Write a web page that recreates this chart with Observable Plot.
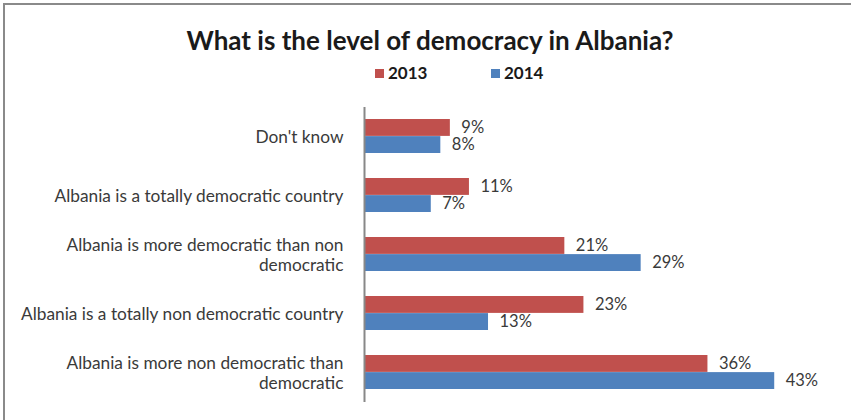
<!DOCTYPE html>
<html>
<head>
<meta charset="utf-8">
<script src="https://cdn.jsdelivr.net/npm/d3@7"></script>
<script src="https://cdn.jsdelivr.net/npm/@observablehq/plot@0.6"></script>
<style>
  html, body { margin: 0; padding: 0; background: #fff; overflow: hidden; }
  body { width: 851px; height: 420px; position: relative; font-family: Lato, "Open Sans", sans-serif; }
  #frame { position: absolute; left: 3px; top: 3px; width: 900px; height: 440px; border: 2px solid #8a8a8a; box-sizing: border-box; }
  #title { position: absolute; left: 9px; top: 24px; width: 842px; text-align: center; font-weight: bold; font-size: 26px; color: #1a1a1a; line-height: 32px; }
  #legend { position: absolute; left: 0; top: 62px; width: 851px; height: 22px; }
  .item { position: absolute; top: 0; font-weight: bold; font-size: 17px; color: #1a1a1a; line-height: 22px; }
  .sw { display: inline-block; width: 9px; height: 9px; margin-right: 4px; vertical-align: 1px; }
  #chart { position: absolute; left: 0; top: 90px; }
</style>
</head>
<body>
<div id="frame"></div>
<div id="title">What is the level of democracy in Albania?</div>
<div id="legend"></div>
<div id="chart"></div>
<script>
const categories = [
  "Don't know",
  "Albania is a totally democratic country",
  "Albania is more democratic than non democratic",
  "Albania is a totally non democratic country",
  "Albania is more non democratic than democratic"
];
const tickLabels = [
  "Don't know",
  "Albania is a totally democratic country",
  "Albania is more democratic than non\ndemocratic",
  "Albania is a totally non democratic country",
  "Albania is more non democratic than\ndemocratic"
];
const years = ["2013", "2014"];
const values2013 = [9, 11, 21, 23, 36];
const values2014 = [8, 7, 29, 13, 43];
const colors = ["#C0504D", "#4F81BD"];

const rows = categories.flatMap((c, i) => [
  {cat: c, year: years[0], value: values2013[i] / 100},
  {cat: c, year: years[1], value: values2014[i] / 100}
]);
const r13 = rows.filter(d => d.year === years[0]);
const r14 = rows.filter(d => d.year === years[1]);

// legend
const legend = document.getElementById("legend");
const legendX = [375, 491];
years.forEach((y, i) => {
  const el = document.createElement("div");
  el.className = "item";
  el.style.left = legendX[i] + "px";
  el.innerHTML = `<span class="sw" style="background:${colors[i]}"></span>${y}`;
  legend.appendChild(el);
});

const width = 851, height = 330, mt = 17, mb = 18;
const padInner = 0.42;
const step = (height - mt - mb) / categories.length;
const bw = step * (1 - padInner);
const labelMap = new Map(categories.map((c, i) => [c, tickLabels[i]]));

const chart = Plot.plot({
  width, height,
  marginLeft: 364, marginRight: 10, marginTop: mt, marginBottom: mb,
  style: {fontFamily: "Lato, 'Open Sans', sans-serif", fontSize: "17px", color: "#3a3a3a", background: "transparent"},
  x: {domain: [0, 0.5], axis: null},
  y: {type: "band", domain: categories, paddingInner: padInner, paddingOuter: padInner / 2, axis: null},
  marks: [
    Plot.barX(r13, {x: "value", y: "cat", fill: colors[0], insetBottom: bw / 2}),
    Plot.barX(r14, {x: "value", y: "cat", fill: colors[1], insetTop: bw / 2}),
    Plot.ruleX([0], {stroke: "#888", strokeWidth: 2}),
    Plot.text(r13, {x: "value", y: "cat", dy: -bw / 4, dx: 11, textAnchor: "start", text: d => Math.round(d.value * 100) + "%", fontSize: 16.5, fill: "#3a3a3a"}),
    Plot.text(r14, {x: "value", y: "cat", dy: bw / 4, dx: 11, textAnchor: "start", text: d => Math.round(d.value * 100) + "%", fontSize: 16.5, fill: "#3a3a3a"}),
    Plot.axisY({tickSize: 0, tickPadding: 21, tickFormat: d => labelMap.get(d), lineHeight: 1.18, fontSize: 17.3, fill: "#3a3a3a", label: null})
  ]
});
document.getElementById("chart").appendChild(chart);
</script>
</body>
</html>
